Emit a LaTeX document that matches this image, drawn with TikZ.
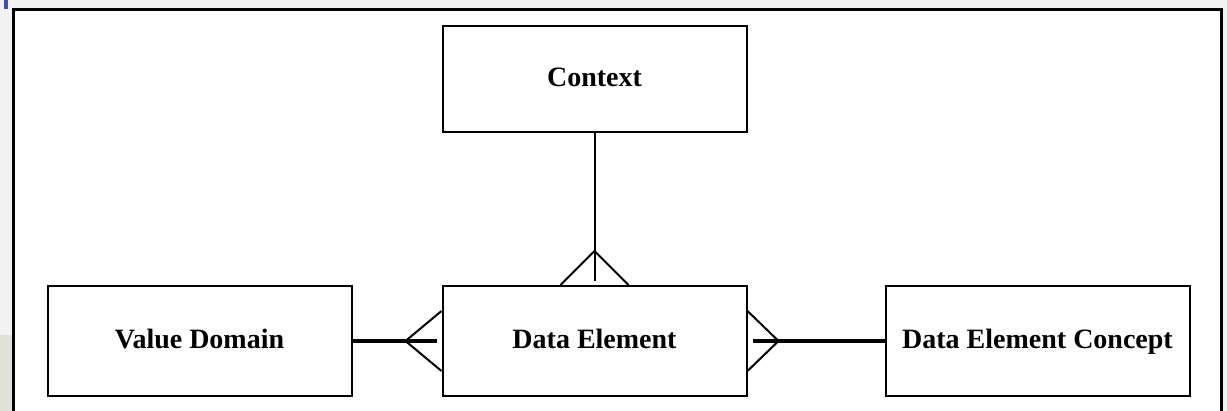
\documentclass[tikz,border=0pt]{standalone}
\usepackage{fontspec}
\setmainfont{Liberation Serif}
\usetikzlibrary{positioning, calc}
\definecolor{pagegray}{HTML}{F2F2F2}
\definecolor{stripgray}{HTML}{E1E1DA}
\definecolor{markblue}{HTML}{4848B8}

\begin{document}
\begin{tikzpicture}[
    x=1pt, y=1pt,
    box/.style={draw, line width=2pt, rectangle, fill=white, minimum width=304pt, minimum height=110pt, inner sep=0pt, text height=22pt, text depth=6pt, font=\bfseries\fontsize{28}{30}\selectfont},
    link/.style={line width=2pt},
    heavy/.style={line width=3.5pt}
]
    % page and frame
    \useasboundingbox (0,0) rectangle (1227,-411);
    \fill[pagegray] (0,0) rectangle (1227,-411);
    \fill[stripgray] (0,-335) rectangle (12,-411);
    \fill[markblue] (4,0) rectangle (8,-9);
    \draw[line width=3pt, fill=white] (13,-10) rectangle (1221,-430);

    \node[box] (de) at (594.5,-341) {Data Element};
    \node[box, minimum height=106pt, above=152pt of de] (ctx) {Context};
    \node[box, left=89pt of de] (vd) {Value Domain};
    \node[box, right=137pt of de] (dec) {Data Element Concept};

    % crow's feet
    \coordinate (topfoot) at ($(de.north)+(0,34)$);
    \coordinate (leftfoot) at ($(de.west)+(-36,0)$);
    \coordinate (rightfoot) at ($(de.east)+(31,0)$);

    \draw[link] (ctx) -- ($(de.north)+(0,4)$);
    \draw[link] ($(de.north)+(-34,0)$) -- (topfoot) -- ($(de.north)+(34,0)$);
    \draw[heavy] (vd) -- ($(de.west)+(-5,0)$);
    \draw[link] ($(de.west)+(0,30)$) -- (leftfoot) -- ($(de.west)+(0,-30)$);
    \draw[heavy] (dec) -- ($(de.east)+(5,0)$);
    \draw[link] ($(de.east)+(0,30)$) -- (rightfoot) -- ($(de.east)+(0,-30)$);
\end{tikzpicture}
\end{document}
